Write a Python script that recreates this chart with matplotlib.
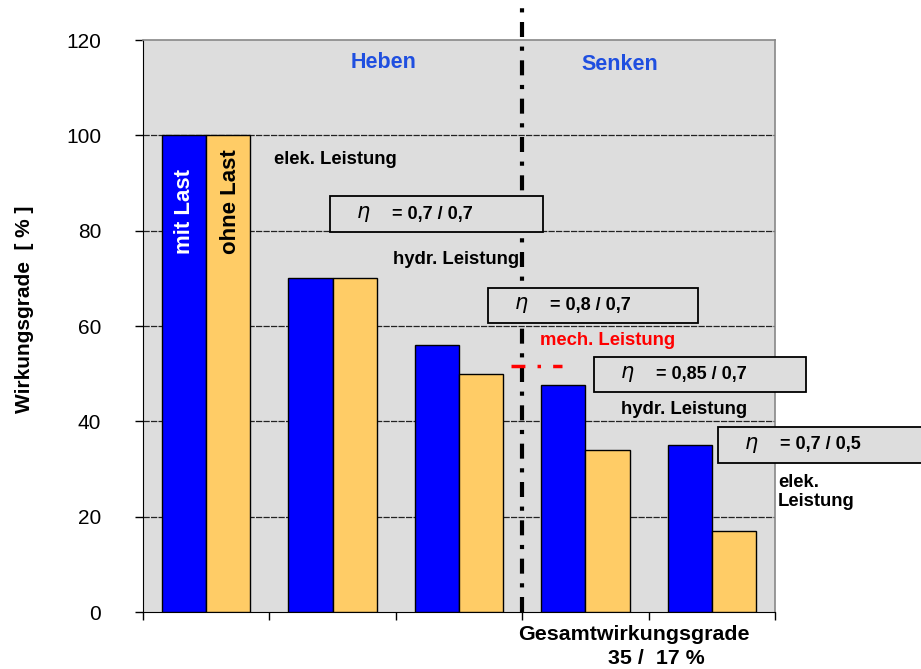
import matplotlib
matplotlib.use("Agg")
import matplotlib.pyplot as plt
from matplotlib.patches import Rectangle
from matplotlib.lines import Line2D
import numpy as np

plt.rcParams['font.family'] = ['Liberation Sans', 'DejaVu Sans']

# Efficiency chain, lifting (Heben) then lowering (Senken)
stages = ["elek. Leistung", "hydr. Leistung", "mech. Leistung", "hydr. Leistung", "elek. Leistung"]
mit_last = [100, 70, 56, 47.6, 35]
ohne_last = [100, 70, 50, 34, 17]
series_labels = ["mit Last", "ohne Last"]
eta_labels = ["= 0,7 / 0,7", "= 0,8 / 0,7", "= 0,85 / 0,7", "= 0,7 / 0,5"]
yticks = [0, 20, 40, 60, 80, 100, 120]

W, H = 921, 669
fig = plt.figure(figsize=(W / 100, H / 100), dpi=100)
ax = fig.add_axes([143 / W, 1 - 612 / H, 632 / W, 572 / H])

def fx(px):
    return px / W

def fy(py):
    return 1 - py / H

x = np.arange(len(stages))
bw = 0.35
ax.set_facecolor('#DDDDDD')
ax.bar(x - bw / 2, mit_last, bw, color='#0000FF', edgecolor='black', linewidth=1, zorder=3)
ax.bar(x + bw / 2, ohne_last, bw, color='#FFCC66', edgecolor='black', linewidth=1, zorder=3)

ax.set_xlim(-0.5, len(stages) - 0.5)
ax.set_ylim(0, 120)
ax.set_yticks(yticks)
ax.set_yticklabels([str(v) for v in yticks], fontsize=15)
ax.set_xticks(np.arange(-0.5, len(stages) - 0.4, 1.0))
ax.set_xticklabels([])
ax.tick_params(axis='both', direction='out', length=6, width=1, color='black')
ax.tick_params(axis='y', pad=24)

for v in yticks[1:-1]:
    ax.axhline(v, color='#222222', linewidth=0.9, linestyle=(0, (5, 1)), zorder=1)

for side in ['top', 'right']:
    ax.spines[side].set_color('#888888')
    ax.spines[side].set_linewidth(1.2)
for side in ['left', 'bottom']:
    ax.spines[side].set_color('black')

# Series labels written inside the first pair of bars
ax.text(x[0] - bw / 2, 75, series_labels[0], rotation=90, ha='center', va='bottom',
        color='white', fontsize=16, fontweight='bold', zorder=5)
ax.text(x[0] + bw / 2 + 0.02, 75, series_labels[1], rotation=90, ha='center', va='bottom',
        color='black', fontsize=16, fontweight='bold', zorder=5)

# Divider between lifting and lowering
ax.plot([2.5, 2.5], [0, 128.5], color='black', linewidth=3,
        linestyle=(0, (3.6, 2.3, 1, 2.3)), clip_on=False, zorder=4)

ax.set_ylabel("Wirkungsgrade  [ % ]", fontsize=15, fontweight='bold')
ax.yaxis.set_label_coords(-0.173, 0.53)

blue_txt = '#1F4FE0'
fig.text(fx(384), fy(62), "Heben", color=blue_txt, fontsize=15.5, fontweight='bold', ha='center', va='center')
fig.text(fx(620), fy(64), "Senken", color=blue_txt, fontsize=15.5, fontweight='bold', ha='center', va='center')

# Stage labels
stage_pos = [(274, 160), (393, 260), (540, 341), (621, 410), (778, 492)]
for i, (name, (px, py)) in enumerate(zip(stages, stage_pos)):
    txt = name if i != 4 else "elek.\nLeistung"
    col = 'red' if i == 2 else 'black'
    fig.text(fx(px), fy(py), txt, color=col, fontsize=13.3, fontweight='bold',
             ha='left', va='center', linespacing=1.2)

fig.add_artist(Line2D([fx(511), fx(562)], [fy(366), fy(366)], transform=fig.transFigure,
                      color='red', linewidth=2.5, linestyle=(0, (4, 3.5, 1, 3.5))))

# Efficiency boxes between the stages
boxes = [(330, 196, 543, 232), (488, 288, 698, 323), (594, 357, 806, 392), (718, 427, 930, 463)]
for lab, (x0, y0, x1, y1) in zip(eta_labels, boxes):
    fig.add_artist(Rectangle((fx(x0), fy(y1)), fx(x1 - x0), (y1 - y0) / H,
                             transform=fig.transFigure, facecolor='#DDDDDD',
                             edgecolor='black', linewidth=1.3, zorder=6))
    yc = fy((y0 + y1) / 2)
    fig.text(fx(x0 + 33), yc, r"$\eta$", fontsize=15, ha='center', va='center', zorder=7)
    fig.text(fx(x0 + 62), yc, lab, fontsize=13, fontweight='bold', ha='left', va='center', zorder=7)

fig.text(fx(634), fy(635), "Gesamtwirkungsgrade", fontsize=15.4, fontweight='bold',
         ha='center', va='center')
fig.text(fx(656), fy(659), "35 /  17 %", fontsize=15.4, fontweight='bold',
         ha='center', va='center')

fig.savefig("out.png", dpi=100)
